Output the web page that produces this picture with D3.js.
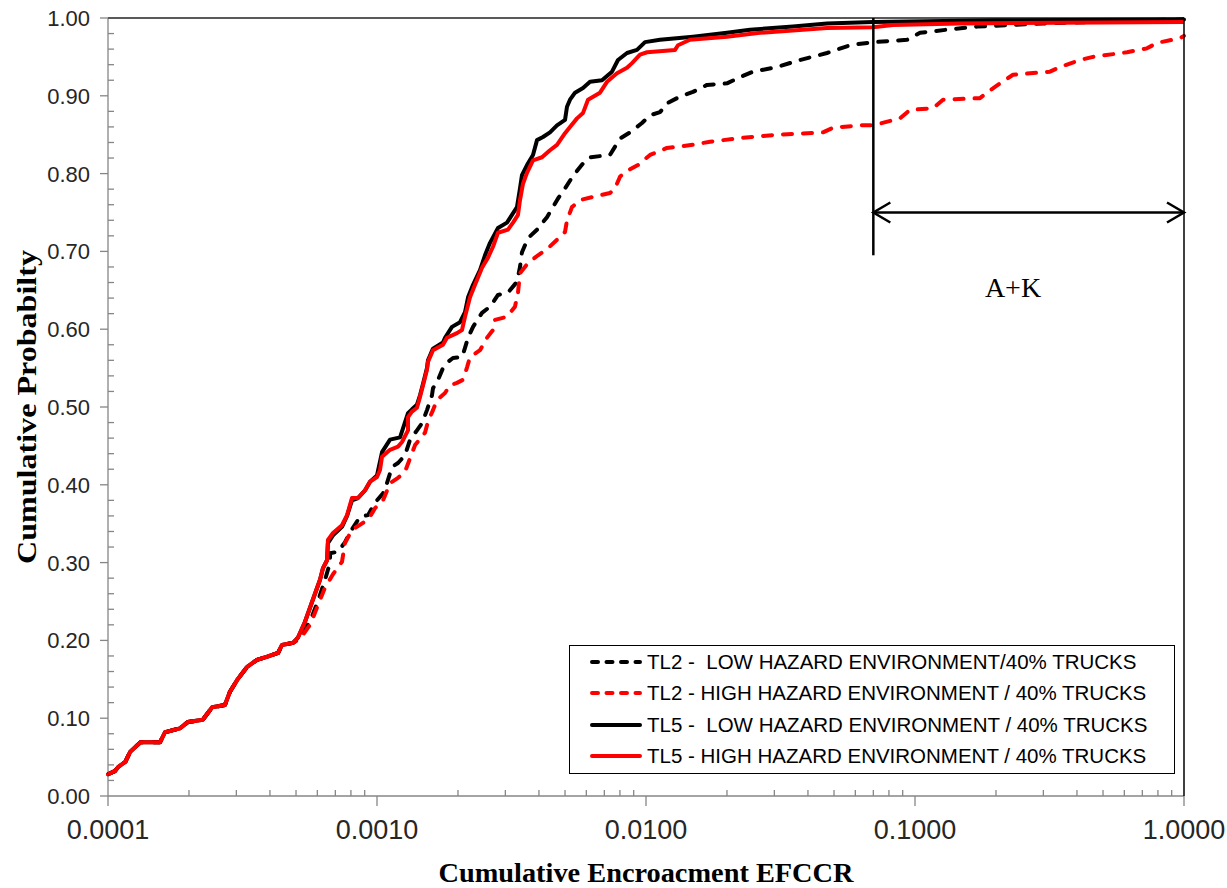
<!DOCTYPE html>
<html>
<head>
<meta charset="utf-8">
<script src="https://cdn.jsdelivr.net/npm/d3@7"></script>
<style>
body { margin: 0; background: #fff; }
</style>
</head>
<body>
<script>
var width = 1227;
var height = 888;
var margin = { top: 18, right: 43, bottom: 92, left: 108 };

var xTicks = [0.0001, 0.001, 0.01, 0.1, 1];
var yTicks = [0, 0.1, 0.2, 0.3, 0.4, 0.5, 0.6, 0.7, 0.8, 0.9, 1];

// low part shared by all four curves
var sharedStart = [
  [1.0e-4, 0.028], [1.06e-4, 0.032], [1.09e-4, 0.037], [1.16e-4, 0.044], [1.21e-4, 0.057],
  [1.32e-4, 0.069], [1.56e-4, 0.069], [1.63e-4, 0.082], [1.85e-4, 0.087], [1.98e-4, 0.095],
  [2.25e-4, 0.098], [2.44e-4, 0.114], [2.72e-4, 0.117], [2.84e-4, 0.134], [3.02e-4, 0.149],
  [3.29e-4, 0.166], [3.58e-4, 0.175], [3.90e-4, 0.179], [4.29e-4, 0.184], [4.43e-4, 0.194],
  [4.88e-4, 0.197]
];

var tl2Low = [
  [5.17e-4, 0.204], [5.64e-4, 0.225], [6.03e-4, 0.250], [6.41e-4, 0.278], [6.69e-4, 0.300],
  [6.69e-4, 0.312], [7.16e-4, 0.314], [7.6e-4, 0.326], [7.94e-4, 0.339], [8.65e-4, 0.359],
  [9.26e-4, 0.361], [9.83e-4, 0.377], [1.053e-3, 0.389], [1.089e-3, 0.402], [1.137e-3, 0.423],
  [1.197e-3, 0.428], [1.271e-3, 0.438], [1.327e-3, 0.458], [1.408e-3, 0.470], [1.47e-3, 0.479],
  [1.534e-3, 0.496], [1.601e-3, 0.515], [1.615e-3, 0.524], [1.686e-3, 0.535], [1.759e-3, 0.550],
  [1.836e-3, 0.558], [1.916e-3, 0.563], [2.07e-3, 0.564], [2.124e-3, 0.576], [2.18e-3, 0.589],
  [2.275e-3, 0.603], [2.457e-3, 0.621], [2.631e-3, 0.629], [2.817e-3, 0.644], [3.069e-3, 0.647],
  [3.314e-3, 0.661], [3.401e-3, 0.680], [3.459e-3, 0.699], [3.642e-3, 0.717], [3.934e-3, 0.728],
  [4.285e-3, 0.744], [4.511e-3, 0.757], [4.709e-3, 0.768], [5.0e-3, 0.781], [5.354e-3, 0.797],
  [5.833e-3, 0.813], [6.193e-3, 0.821], [7.348e-3, 0.824], [8.005e-3, 0.845], [8.719e-3, 0.853],
  [9.663e-3, 0.865], [1.035e-2, 0.875], [1.127e-2, 0.879], [1.207e-2, 0.891], [1.338e-2, 0.899],
  [1.495e-2, 0.905], [1.686e-2, 0.914], [2.0e-2, 0.916], [2.236e-2, 0.924], [2.499e-2, 0.931],
  [3.069e-2, 0.937], [3.737e-2, 0.946], [4.709e-2, 0.955], [5.734e-2, 0.965], [6.983e-2, 0.969],
  [9.339e-2, 0.972], [0.1044, 0.981], [0.1315, 0.985], [0.170, 0.989], [0.2255, 0.991],
  [0.299, 0.993], [0.4588, 0.995], [0.6141, 0.997], [1.0, 0.998]
];

var tl2High = [
  [5.17e-4, 0.202], [5.64e-4, 0.220], [6.03e-4, 0.245], [6.41e-4, 0.268], [6.86e-4, 0.285],
  [7.41e-4, 0.301], [7.6e-4, 0.325], [8.07e-4, 0.342], [8.87e-4, 0.351], [9.42e-4, 0.359],
  [9.83e-4, 0.370], [1.053e-3, 0.380], [1.118e-3, 0.402], [1.197e-3, 0.409], [1.271e-3, 0.417],
  [1.327e-3, 0.434], [1.385e-3, 0.451], [1.508e-3, 0.467], [1.547e-3, 0.481], [1.615e-3, 0.496],
  [1.671e-3, 0.509], [1.79e-3, 0.518], [1.868e-3, 0.528], [1.983e-3, 0.531], [2.088e-3, 0.535],
  [2.161e-3, 0.551], [2.217e-3, 0.564], [2.415e-3, 0.573], [2.564e-3, 0.589], [2.699e-3, 0.599],
  [2.746e-3, 0.612], [3.042e-3, 0.616], [3.258e-3, 0.629], [3.343e-3, 0.647], [3.401e-3, 0.672],
  [3.642e-3, 0.685], [3.968e-3, 0.695], [4.322e-3, 0.704], [4.668e-3, 0.715], [5.0e-3, 0.725],
  [5.085e-3, 0.740], [5.308e-3, 0.757], [5.685e-3, 0.766], [6.354e-3, 0.770], [7.348e-3, 0.775],
  [7.67e-3, 0.781], [8.005e-3, 0.796], [8.354e-3, 0.802], [9.339e-3, 0.811], [1.035e-2, 0.824],
  [1.197e-2, 0.833], [1.495e-2, 0.837], [1.73e-2, 0.841], [2.294e-2, 0.846], [3.069e-2, 0.850],
  [4.55e-2, 0.853], [4.957e-2, 0.859], [6.246e-2, 0.862], [6.983e-2, 0.862], [8.796e-2, 0.871],
  [9.582e-2, 0.882], [0.1166, 0.884], [0.1271, 0.895], [0.1744, 0.897], [0.19, 0.907],
  [0.207, 0.916], [0.2314, 0.927], [0.3175, 0.931], [0.3459, 0.937], [0.4106, 0.946],
  [0.4588, 0.950], [0.6141, 0.956], [0.7287, 0.961], [0.7937, 0.968], [0.9663, 0.974],
  [1.0, 0.977]
];

var tl5Low = [
  [5.09e-4, 0.204], [5.40e-4, 0.224], [5.73e-4, 0.249], [6.14e-4, 0.278], [6.30e-4, 0.293],
  [6.52e-4, 0.303], [6.57e-4, 0.325], [6.86e-4, 0.335], [7.41e-4, 0.346], [7.74e-4, 0.360],
  [8.07e-4, 0.380], [8.50e-4, 0.383], [9.03e-4, 0.393], [9.42e-4, 0.404], [1.0e-3, 0.412],
  [1.044e-3, 0.442], [1.118e-3, 0.458], [1.218e-3, 0.461], [1.304e-3, 0.492], [1.349e-3, 0.497],
  [1.408e-3, 0.503], [1.445e-3, 0.515], [1.483e-3, 0.530], [1.534e-3, 0.550], [1.547e-3, 0.560],
  [1.615e-3, 0.575], [1.759e-3, 0.583], [1.79e-3, 0.589], [1.9e-3, 0.603], [2.035e-3, 0.609],
  [2.124e-3, 0.622], [2.18e-3, 0.641], [2.275e-3, 0.657], [2.415e-3, 0.676], [2.52e-3, 0.695],
  [2.631e-3, 0.711], [2.817e-3, 0.730], [3.042e-3, 0.737], [3.175e-3, 0.747], [3.314e-3, 0.757],
  [3.401e-3, 0.781], [3.459e-3, 0.798], [3.611e-3, 0.811], [3.801e-3, 0.824], [3.934e-3, 0.843],
  [4.141e-3, 0.847], [4.396e-3, 0.853], [4.668e-3, 0.862], [5.0e-3, 0.869], [5.085e-3, 0.886],
  [5.218e-3, 0.895], [5.447e-3, 0.904], [5.833e-3, 0.910], [6.193e-3, 0.918], [6.862e-3, 0.920],
  [7.475e-3, 0.931], [7.869e-3, 0.946], [8.499e-3, 0.955], [9.259e-3, 0.959], [9.915e-3, 0.969],
  [1.127e-2, 0.972], [1.495e-2, 0.976], [2.0e-2, 0.981], [2.436e-2, 0.985], [3.52e-2, 0.989],
  [4.709e-2, 0.993], [6.983e-2, 0.995], [0.2, 0.997], [1.0, 0.998]
];

var tl5High = [
  [5.09e-4, 0.204], [5.40e-4, 0.224], [5.73e-4, 0.249], [6.14e-4, 0.278], [6.30e-4, 0.293],
  [6.52e-4, 0.303], [6.57e-4, 0.329], [6.86e-4, 0.338], [7.41e-4, 0.348], [7.74e-4, 0.361],
  [8.07e-4, 0.383], [8.50e-4, 0.383], [9.03e-4, 0.393], [9.42e-4, 0.404], [1.0e-3, 0.410],
  [1.026e-3, 0.419], [1.044e-3, 0.436], [1.118e-3, 0.445], [1.197e-3, 0.449], [1.239e-3, 0.455],
  [1.304e-3, 0.470], [1.304e-3, 0.487], [1.349e-3, 0.494], [1.408e-3, 0.499], [1.445e-3, 0.513],
  [1.483e-3, 0.528], [1.534e-3, 0.548], [1.547e-3, 0.558], [1.615e-3, 0.573], [1.759e-3, 0.580],
  [1.821e-3, 0.589], [1.983e-3, 0.595], [2.07e-3, 0.599], [2.124e-3, 0.616], [2.217e-3, 0.641],
  [2.314e-3, 0.657], [2.457e-3, 0.679], [2.586e-3, 0.692], [2.699e-3, 0.706], [2.817e-3, 0.724],
  [3.069e-3, 0.728], [3.203e-3, 0.737], [3.343e-3, 0.747], [3.401e-3, 0.766], [3.489e-3, 0.787],
  [3.611e-3, 0.801], [3.801e-3, 0.817], [4.106e-3, 0.821], [4.396e-3, 0.830], [4.668e-3, 0.837],
  [5.0e-3, 0.852], [5.218e-3, 0.860], [5.541e-3, 0.871], [5.833e-3, 0.878], [6.088e-3, 0.895],
  [6.745e-3, 0.904], [7.161e-3, 0.918], [7.802e-3, 0.929], [8.499e-3, 0.936], [8.873e-3, 0.942],
  [9.5e-3, 0.953], [1.009e-2, 0.956], [1.282e-2, 0.959], [1.315e-2, 0.965], [1.457e-2, 0.972],
  [2.0e-2, 0.976], [2.653e-2, 0.981], [4.709e-2, 0.987], [6.983e-2, 0.988], [8.286e-2, 0.991],
  [0.147, 0.993], [1.0, 0.995]
];

var seriesNames = [
  'TL2 -  LOW HAZARD ENVIRONMENT/40% TRUCKS',
  'TL2 - HIGH HAZARD ENVIRONMENT / 40% TRUCKS',
  'TL5 -  LOW HAZARD ENVIRONMENT / 40% TRUCKS',
  'TL5 - HIGH HAZARD ENVIRONMENT / 40% TRUCKS'
];
var seriesData = [tl2Low, tl2High, tl5Low, tl5High];
var seriesColors = ['#000000', '#ff0000', '#000000', '#ff0000'];
var seriesDashed = [true, true, false, false];

// A+K bracket: starts at x = 0.07, arrow at p = 0.75, bar down to p = 0.695
var akStart = 0.07;
var akArrowY = 0.75;
var akBarBottom = 0.695;

var x = d3.scaleLog().domain([0.0001, 1]).range([margin.left, width - margin.right]);
var y = d3.scaleLinear().domain([0, 1]).range([height - margin.bottom, margin.top]);

var svg = d3.select('body').append('svg')
  .attr('width', width).attr('height', height)
  .attr('viewBox', [0, 0, width, height].join(' '))
  .style('font-family', 'Liberation Sans, Arial, sans-serif');

var axisColor = '#868686';
var x0 = x.range()[0], x1 = x.range()[1];
var yb = y(0), yt = y(1);

// minor ticks
var xMinor = [];
xTicks.slice(0, -1).forEach(function (d) {
  for (var k = 2; k <= 9; k++) xMinor.push(d * k);
});
var yMinor = d3.range(0, 50).map(function (i) { return i * 0.02; }).filter(function (d, i) { return i % 5 !== 0; });

var axes = svg.append('g').attr('stroke', axisColor).attr('stroke-width', 1.3);
axes.selectAll('.xminor').data(xMinor).enter().append('line')
  .attr('x1', x).attr('x2', x).attr('y1', yb).attr('y2', yb - 6);
axes.selectAll('.xmajor').data(xTicks).enter().append('line')
  .attr('x1', x).attr('x2', x).attr('y1', yb).attr('y2', yb + 10);
axes.selectAll('.yminor').data(yMinor).enter().append('line')
  .attr('x1', x0).attr('x2', x0 + 6).attr('y1', y).attr('y2', y);
axes.selectAll('.ymajor').data(yTicks).enter().append('line')
  .attr('x1', x0 - 8).attr('x2', x0).attr('y1', y).attr('y2', y);
axes.append('line').attr('x1', x0).attr('x2', x1).attr('y1', yb).attr('y2', yb);
axes.append('line').attr('x1', x0).attr('x2', x0).attr('y1', yt).attr('y2', yb);

// plot border top
svg.append('line').attr('x1', x0).attr('x2', x1).attr('y1', yt).attr('y2', yt)
  .attr('stroke', '#595959').attr('stroke-width', 2);

svg.append('g').selectAll('text').data(xTicks).enter().append('text')
  .attr('x', x).attr('y', yb + 43)
  .attr('text-anchor', 'middle')
  .style('font-family', 'Liberation Sans Narrow, Arial Narrow, sans-serif')
  .style('font-size', '27px').attr('fill', '#262626')
  .text(d3.format('.4f'));

svg.append('g').selectAll('text').data(yTicks).enter().append('text')
  .attr('x', x0 - 18).attr('y', y).attr('dy', '0.36em')
  .attr('text-anchor', 'end')
  .style('font-size', '22px').attr('fill', '#262626')
  .text(d3.format('.2f'));

// axis titles
svg.append('text')
  .attr('x', (x0 + x1) / 2).attr('y', 882)
  .attr('text-anchor', 'middle')
  .style('font-family', 'Liberation Serif, Times New Roman, serif')
  .style('font-weight', 'bold').style('font-size', '28px')
  .attr('textLength', 415).attr('lengthAdjust', 'spacingAndGlyphs')
  .text('Cumulative Encroacment EFCCR');

svg.append('text')
  .attr('transform', 'translate(36,' + y(0.5) + ') rotate(-90)')
  .attr('text-anchor', 'middle')
  .style('font-family', 'Liberation Serif, Times New Roman, serif')
  .style('font-weight', 'bold').style('font-size', '28px')
  .attr('textLength', 314).attr('lengthAdjust', 'spacingAndGlyphs')
  .text('Cumulative Probabilty');

// curves
var line = d3.line().x(function (d) { return x(d[0]); }).y(function (d) { return y(d[1]); });
var plot = svg.append('g');
seriesData.forEach(function (s, i) {
  plot.append('path')
    .datum(sharedStart.concat(s))
    .attr('d', line)
    .attr('fill', 'none')
    .attr('stroke', seriesColors[i])
    .attr('stroke-width', 4)
    .attr('stroke-linejoin', 'round')
    .attr('stroke-linecap', seriesDashed[i] ? 'round' : 'butt')
    .attr('stroke-dasharray', seriesDashed[i] ? '9,11' : null);
});

// right border
svg.append('line').attr('x1', x1).attr('x2', x1).attr('y1', yt).attr('y2', yb)
  .attr('stroke', '#000').attr('stroke-width', 1.5);

// A+K annotation
var ak = svg.append('g').attr('stroke', '#000').attr('fill', 'none').attr('stroke-width', 2.5);
ak.append('line').attr('x1', x(akStart)).attr('x2', x(akStart)).attr('y1', yt).attr('y2', y(akBarBottom));
ak.append('line').attr('x1', x(akStart)).attr('x2', x(1)).attr('y1', y(akArrowY)).attr('y2', y(akArrowY));
ak.append('path').attr('d', 'M' + (x(akStart) + 17) + ',' + (y(akArrowY) - 10) + 'L' + x(akStart) + ',' + y(akArrowY) + 'L' + (x(akStart) + 17) + ',' + (y(akArrowY) + 10));
ak.append('path').attr('d', 'M' + (x(1) - 17) + ',' + (y(akArrowY) - 10) + 'L' + x(1) + ',' + y(akArrowY) + 'L' + (x(1) - 17) + ',' + (y(akArrowY) + 10));
svg.append('text')
  .attr('x', 1013).attr('y', 297)
  .attr('text-anchor', 'middle')
  .style('font-family', 'Liberation Serif, Times New Roman, serif')
  .style('font-size', '28px')
  .text('A+K');

// legend
var legend = svg.append('g');
legend.append('rect')
  .attr('x', 569.5).attr('y', 645.5).attr('width', 605).attr('height', 128)
  .attr('fill', '#fff').attr('stroke', '#000').attr('stroke-width', 1);
var rowY = [662, 693, 725, 756];
seriesNames.forEach(function (name, i) {
  legend.append('line')
    .attr('x1', 592).attr('x2', 640).attr('y1', rowY[i]).attr('y2', rowY[i])
    .attr('stroke', seriesColors[i]).attr('stroke-width', 4)
    .attr('stroke-linecap', 'round')
    .attr('stroke-dasharray', seriesDashed[i] ? '6,8.5' : null);
  legend.append('text')
    .attr('x', 647).attr('y', rowY[i]).attr('dy', '0.36em')
    .style('font-family', 'Liberation Sans Narrow, Arial Narrow, sans-serif')
    .style('font-size', '20.5px').style('white-space', 'pre')
    .attr('fill', '#000')
    .text(name);
});
</script>
</body>
</html>
